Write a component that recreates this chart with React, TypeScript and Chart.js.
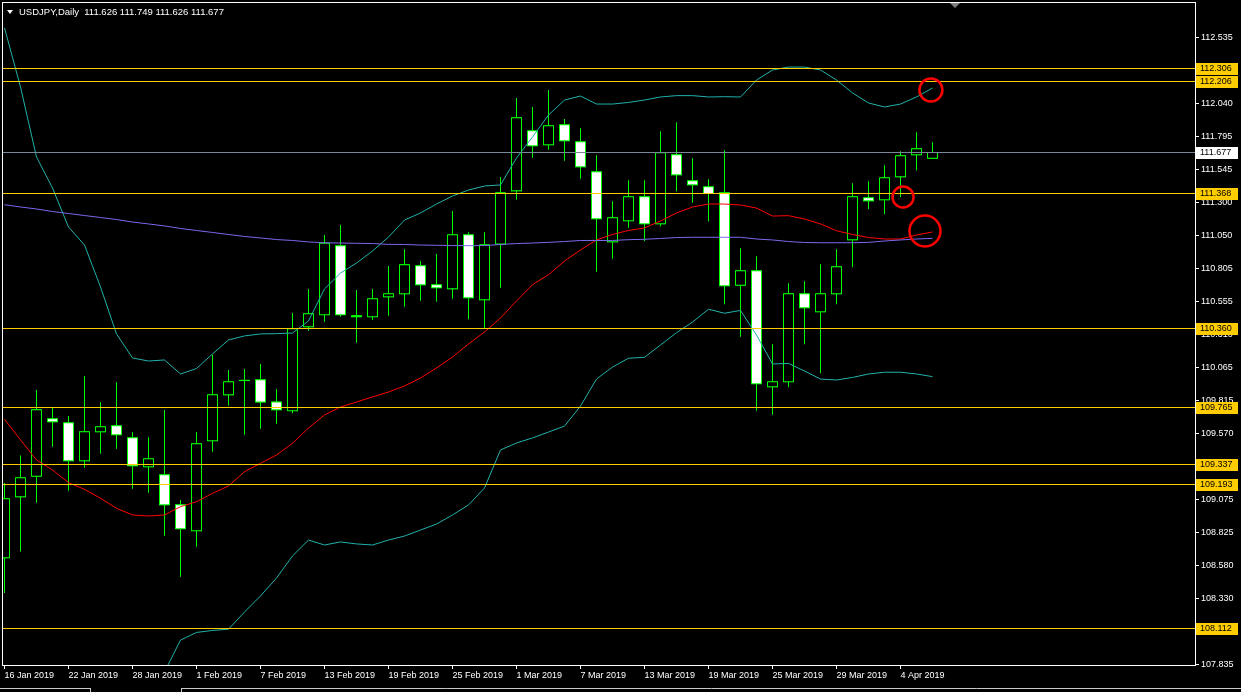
import React, { useEffect, useRef } from 'react';
import { Chart, registerables } from 'chart.js';

Chart.register(...registerables);

// ---- DATA ----
const dates = [
  '16 Jan 2019', '17 Jan 2019', '18 Jan 2019', '21 Jan 2019', '22 Jan 2019', '23 Jan 2019', '24 Jan 2019', '25 Jan 2019',
  '28 Jan 2019', '29 Jan 2019', '30 Jan 2019', '31 Jan 2019', '1 Feb 2019', '4 Feb 2019', '5 Feb 2019', '6 Feb 2019',
  '7 Feb 2019', '8 Feb 2019', '11 Feb 2019', '12 Feb 2019', '13 Feb 2019', '14 Feb 2019', '15 Feb 2019', '18 Feb 2019',
  '19 Feb 2019', '20 Feb 2019', '21 Feb 2019', '22 Feb 2019', '25 Feb 2019', '26 Feb 2019', '27 Feb 2019', '28 Feb 2019',
  '1 Mar 2019', '4 Mar 2019', '5 Mar 2019', '6 Mar 2019', '7 Mar 2019', '8 Mar 2019', '11 Mar 2019', '12 Mar 2019',
  '13 Mar 2019', '14 Mar 2019', '15 Mar 2019', '18 Mar 2019', '19 Mar 2019', '20 Mar 2019', '21 Mar 2019', '22 Mar 2019',
  '25 Mar 2019', '26 Mar 2019', '27 Mar 2019', '28 Mar 2019', '29 Mar 2019', '1 Apr 2019', '2 Apr 2019', '3 Apr 2019',
  '4 Apr 2019', '5 Apr 2019', '8 Apr 2019',
];

const opens = [
  108.633, 109.090, 109.245, 109.682, 109.652, 109.360, 109.577, 109.630, 109.540, 109.315,
  109.263, 109.038, 108.836, 109.510, 109.854, 109.961, 109.974, 109.808, 109.735, 110.364,
  110.454, 110.978, 110.454, 110.439, 110.588, 110.611, 110.828, 110.686, 110.648, 111.060,
  110.566, 110.984, 111.382, 111.839, 111.727, 111.884, 111.757, 111.532, 111.000, 111.158,
  111.345, 111.135, 111.660, 111.465, 111.420, 111.375, 110.675, 110.791, 109.914, 109.952,
  110.618, 110.476, 110.611, 111.015, 111.337, 111.315, 111.487, 111.652, 111.626,
];
const highs = [
  109.197, 109.404, 109.894, 109.762, 109.699, 109.999, 109.802, 109.952, 109.577, 109.540,
  109.744, 109.070, 109.579, 110.158, 110.044, 110.051, 110.089, 109.902, 110.471, 110.651,
  111.055, 111.130, 110.643, 110.651, 110.823, 110.948, 110.860, 110.913, 111.235, 111.075,
  111.075, 111.490, 112.081, 112.014, 112.141, 111.924, 111.854, 111.652, 111.307, 111.465,
  111.465, 111.832, 111.899, 111.630, 111.472, 111.690, 110.955, 110.896, 110.236, 110.693,
  110.708, 110.836, 110.948, 111.442, 111.457, 111.577, 111.682, 111.824, 111.749,
];
const lows = [
  108.373, 108.684, 109.050, 109.469, 109.140, 109.312, 109.417, 109.454, 109.155, 109.125,
  108.803, 108.496, 108.720, 109.432, 109.776, 109.559, 109.604, 109.642, 109.720, 110.338,
  110.406, 110.443, 110.248, 110.418, 110.451, 110.518, 110.563, 110.555, 110.578, 110.424,
  110.356, 110.660, 111.320, 111.634, 111.694, 111.612, 111.477, 110.780, 110.878, 111.110,
  111.008, 111.120, 111.382, 111.297, 111.156, 110.536, 110.293, 109.739, 109.709, 109.914,
  110.236, 110.019, 110.536, 110.813, 111.248, 111.210, 111.337, 111.540, 111.626,
];
const closes = [
  109.083, 109.240, 109.750, 109.652, 109.360, 109.585, 109.622, 109.555, 109.323, 109.382,
  109.030, 108.851, 109.495, 109.862, 109.959, 109.970, 109.800, 109.742, 110.356, 110.469,
  110.997, 110.454, 110.439, 110.581, 110.618, 110.836, 110.678, 110.656, 111.060, 110.581,
  110.985, 111.375, 111.937, 111.720, 111.877, 111.757, 111.562, 111.173, 111.188, 111.345,
  111.135, 111.675, 111.502, 111.427, 111.362, 110.671, 110.791, 109.937, 109.959, 110.618,
  110.506, 110.618, 110.821, 111.345, 111.307, 111.487, 111.652, 111.705, 111.677,
];

const bandUpper = [
  112.606, 112.164, 111.639, 111.407, 111.115, 110.980, 110.666, 110.314, 110.134, 110.111,
  110.119, 110.014, 110.055, 110.164, 110.269, 110.299, 110.314, 110.316, 110.321, 110.411,
  110.651, 110.770, 110.845, 110.935, 111.040, 111.167, 111.220, 111.287, 111.347, 111.392,
  111.422, 111.430, 111.632, 111.789, 111.954, 112.066, 112.096, 112.036, 112.036, 112.048,
  112.066, 112.089, 112.099, 112.099, 112.089, 112.091, 112.089, 112.216, 112.291, 112.313,
  112.313, 112.291, 112.216, 112.119, 112.044, 112.014, 112.036, 112.089, 112.156,
];
const bandLower = [
  null, null, null, null, null, null, null, null, null, null,
  107.782, 108.021, 108.078, 108.093, 108.102, 108.231, 108.351, 108.486, 108.651, 108.770,
  108.733, 108.756, 108.741, 108.733, 108.770, 108.800, 108.845, 108.890, 108.958, 109.033,
  109.160, 109.445, 109.497, 109.535, 109.579, 109.624, 109.774, 109.976, 110.066, 110.132,
  110.139, 110.231, 110.323, 110.403, 110.499, 110.469, 110.490, 110.306, 110.089, 110.093,
  110.036, 109.976, 109.969, 109.988, 110.014, 110.027, 110.027, 110.014, 109.994,
];
const maRed = [
  109.675, 109.520, 109.370, 109.295, 109.200, 109.150, 109.083, 109.008, 108.958, 108.950,
  108.958, 109.020, 109.057, 109.120, 109.175, 109.282, 109.345, 109.407, 109.495, 109.609,
  109.707, 109.767, 109.804, 109.842, 109.879, 109.924, 109.984, 110.059, 110.141, 110.239,
  110.329, 110.433, 110.561, 110.683, 110.758, 110.860, 110.943, 111.018, 111.059, 111.089,
  111.108, 111.160, 111.220, 111.265, 111.287, 111.287, 111.280, 111.257, 111.197, 111.200,
  111.175, 111.138, 111.087, 111.059, 111.036, 111.025, 111.025, 111.055, 111.078,
];
const maPurple = [
  111.282, 111.265, 111.250, 111.231, 111.216, 111.201, 111.186, 111.171, 111.152, 111.138,
  111.123, 111.104, 111.089, 111.074, 111.059, 111.044, 111.033, 111.021, 111.014, 111.003,
  110.997, 110.995, 110.993, 110.991, 110.985, 110.984, 110.980, 110.978, 110.976, 110.975,
  110.976, 110.984, 110.991, 110.995, 111.000, 111.006, 111.014, 111.014, 111.014, 111.020,
  111.023, 111.029, 111.036, 111.038, 111.038, 111.038, 111.038, 111.025, 111.018, 111.006,
  110.999, 110.997, 110.997, 110.997, 111.000, 111.010, 111.018, 111.025, 111.030,
];

const xTickIndex = [0, 4, 8, 12, 16, 20, 24, 28, 32, 36, 40, 44, 48, 52, 56];
const yTickValues = [
  112.535, 112.290, 112.040, 111.795, 111.545, 111.300, 111.050, 110.805, 110.555, 110.310,
  110.065, 109.815, 109.570, 109.325, 109.075, 108.825, 108.580, 108.330, 108.085, 107.835,
];
const levelPrices = [112.306, 112.206, 111.368, 110.360, 109.765, 109.337, 109.193, 108.112];
const currentPrice = 111.677;
const headerSymbol = 'USDJPY,Daily';
const headerOHLC = ['111.626', '111.749', '111.626', '111.677'];
const circleIndex = [57.9, 56.16, 57.53];
const circlePrice = [112.141, 111.340, 111.085];

// ---- STYLE ----
const AX_FONT = { family: 'Liberation Sans, Arial, sans-serif', size: 9 };
const CANDLE_GREEN = '#00FF00';
const LEVEL_COLOR = '#FFCC00';
const circleRadius = [11.5, 10.5, 15.5];

const overlayPlugin = {
  id: 'mt4overlay',
  afterDatasetsDraw(chart: any) {
    const { ctx, chartArea: a, scales } = chart;
    const x = scales.x;
    const y = scales.y;
    ctx.save();
    ctx.beginPath();
    ctx.rect(a.left, a.top, a.right - a.left, a.bottom - a.top);
    ctx.clip();
    ctx.lineWidth = 1;
    const cp = Math.round(y.getPixelForValue(currentPrice)) + 0.5;
    ctx.strokeStyle = '#778899';
    ctx.beginPath();
    ctx.moveTo(a.left, cp);
    ctx.lineTo(a.right, cp);
    ctx.stroke();
    ctx.strokeStyle = LEVEL_COLOR;
    levelPrices.forEach((v) => {
      const py = Math.round(y.getPixelForValue(v)) + 0.5;
      ctx.beginPath();
      ctx.moveTo(a.left, py);
      ctx.lineTo(a.right, py);
      ctx.stroke();
    });
    ctx.strokeStyle = '#FF0000';
    ctx.lineWidth = 2.5;
    circleIndex.forEach((ci, k) => {
      const cx = x.getPixelForValue(ci);
      const cy = y.getPixelForValue(circlePrice[k]);
      ctx.beginPath();
      ctx.arc(cx, cy, circleRadius[k], 0, Math.PI * 2);
      ctx.stroke();
    });
    ctx.restore();
  },
  afterDraw(chart: any) {
    const { ctx, chartArea: a, scales } = chart;
    const y = scales.y;
    ctx.save();
    ctx.strokeStyle = '#FFFFFF';
    ctx.lineWidth = 1;
    ctx.strokeRect(a.left - 0.5, a.top - 0.5, a.right - a.left + 1, a.bottom - a.top + 1);
    ctx.font = `${AX_FONT.size}px ${AX_FONT.family}`;
    ctx.textBaseline = 'middle';
    ctx.textAlign = 'left';
    const drawTag = (v: number, bg: string) => {
      const py = Math.round(y.getPixelForValue(v));
      ctx.fillStyle = bg;
      ctx.fillRect(a.right + 1, py - 5, 42, 12);
      ctx.fillStyle = '#000000';
      ctx.fillText(v.toFixed(3), a.right + 5, py + 1);
    };
    levelPrices.forEach((v) => drawTag(v, LEVEL_COLOR));
    drawTag(currentPrice, '#FFFFFF');
    ctx.fillStyle = '#808080';
    ctx.beginPath();
    ctx.moveTo(950, 3);
    ctx.lineTo(960, 3);
    ctx.lineTo(955, 8);
    ctx.closePath();
    ctx.fill();
    ctx.strokeStyle = '#C8C8C8';
    ctx.beginPath();
    ctx.moveTo(0, 688.5);
    ctx.lineTo(90, 688.5);
    ctx.moveTo(182, 688.5);
    ctx.lineTo(1241, 688.5);
    ctx.moveTo(90.5, 688);
    ctx.lineTo(90.5, 692);
    ctx.moveTo(181.5, 688);
    ctx.lineTo(181.5, 692);
    ctx.stroke();
    ctx.restore();
  },
};

export default function App() {
  const canvasRef = useRef<HTMLCanvasElement | null>(null);

  useEffect(() => {
    const canvas = canvasRef.current;
    if (!canvas) return;
    const idx = dates.map((_, i) => i);
    const wicks = idx.map((i) => ({ x: i, y: [lows[i], highs[i]] }));
    const bodies = idx.map((i) => ({ x: i, y: [opens[i], closes[i]] }));
    const bodyFill = idx.map((i) => (closes[i] >= opens[i] ? '#000000' : '#FFFFFF'));
    const toPts = (arr: (number | null)[]) => arr.map((v, i) => ({ x: i, y: v }));

    const lineDs = (data: any, color: string) => ({
      type: 'line',
      data,
      borderColor: color,
      borderWidth: 1,
      pointRadius: 0,
      tension: 0,
      fill: false,
      spanGaps: false,
      order: 0,
    });

    const chart = new Chart(canvas, {
      type: 'bar',
      data: {
        datasets: [
          lineDs(toPts(maPurple), '#7B68EE'),
          lineDs(toPts(maRed), '#FF0000'),
          lineDs(toPts(bandUpper), '#20B2AA'),
          lineDs(toPts(bandLower), '#20B2AA'),
          {
            // body interior with top/bottom edges
            type: 'bar',
            data: bodies,
            backgroundColor: bodyFill,
            borderColor: CANDLE_GREEN,
            borderWidth: { top: 1, bottom: 1, left: 0, right: 0 },
            borderSkipped: false,
            barThickness: 9,
            grouped: false,
            inflateAmount: 0,
            order: 1,
          },
          {
            // body outer (side edges)
            type: 'bar',
            data: bodies,
            backgroundColor: CANDLE_GREEN,
            borderWidth: 0,
            barThickness: 11,
            grouped: false,
            inflateAmount: 0,
            order: 2,
          },
          {
            type: 'bar',
            data: wicks,
            backgroundColor: CANDLE_GREEN,
            borderWidth: 0,
            barThickness: 1,
            grouped: false,
            inflateAmount: 0,
            order: 3,
          },
        ] as any,
      },
      options: {
        responsive: false,
        animation: false,
        events: [],
        layout: { padding: { left: 3, top: 3, right: 0, bottom: 0 } },
        plugins: { legend: { display: false }, tooltip: { enabled: false }, title: { display: false } },
        scales: {
          x: {
            type: 'linear',
            min: -0.09375,
            max: 74.40625,
            offset: false,
            grid: { display: true, drawOnChartArea: false, drawTicks: true, tickLength: 4, color: '#FFFFFF', tickColor: '#FFFFFF', offset: false },
            border: { display: false },
            ticks: {
              autoSkip: false,
              maxRotation: 0,
              align: 'start',
              padding: 1,
              color: '#FFFFFF',
              font: AX_FONT,
              callback: (v: any) => dates[Math.round(Number(v))] ?? '',
            },
            afterBuildTicks: (s: any) => {
              s.ticks = xTickIndex.map((v) => ({ value: v }));
            },
            afterFit: (s: any) => {
              s.height = 27;
              s.paddingLeft = 0;
              s.paddingRight = 0;
            },
          },
          y: {
            type: 'linear',
            position: 'right',
            min: 107.8341,
            max: 112.7929,
            beginAtZero: false,
            grid: { display: true, drawOnChartArea: false, drawTicks: true, tickLength: 4, color: '#FFFFFF', tickColor: '#FFFFFF' },
            border: { display: false },
            ticks: {
              autoSkip: false,
              padding: 2,
              color: '#FFFFFF',
              font: AX_FONT,
              callback: (v: any) => Number(v).toFixed(3),
            },
            afterBuildTicks: (s: any) => {
              s.ticks = yTickValues.map((v) => ({ value: v }));
            },
            afterFit: (s: any) => {
              s.width = 46;
              s.paddingTop = 0;
              s.paddingBottom = 0;
            },
          },
        },
      } as any,
      plugins: [overlayPlugin],
    });
    return () => chart.destroy();
  }, []);

  return (
    <div style={{ position: 'fixed', left: 0, top: 0, width: 1241, height: 692, background: '#000', overflow: 'hidden' }}>
      <canvas ref={canvasRef} width={1241} height={692} style={{ display: 'block' }} />
      <span
        style={{
          position: 'absolute', left: 7, top: 10, width: 0, height: 0,
          borderLeft: '3px solid transparent', borderRight: '3px solid transparent', borderTop: '4px solid #FFFFFF',
        }}
      />
      <div
        style={{
          position: 'absolute', left: 19, top: 6, color: '#FFFFFF', whiteSpace: 'pre',
          fontFamily: 'Liberation Sans, Arial, sans-serif', fontSize: 9.5, lineHeight: '11px',
        }}
      >
        {headerSymbol + '  ' + headerOHLC.join(' ')}
      </div>
    </div>
  );
}
